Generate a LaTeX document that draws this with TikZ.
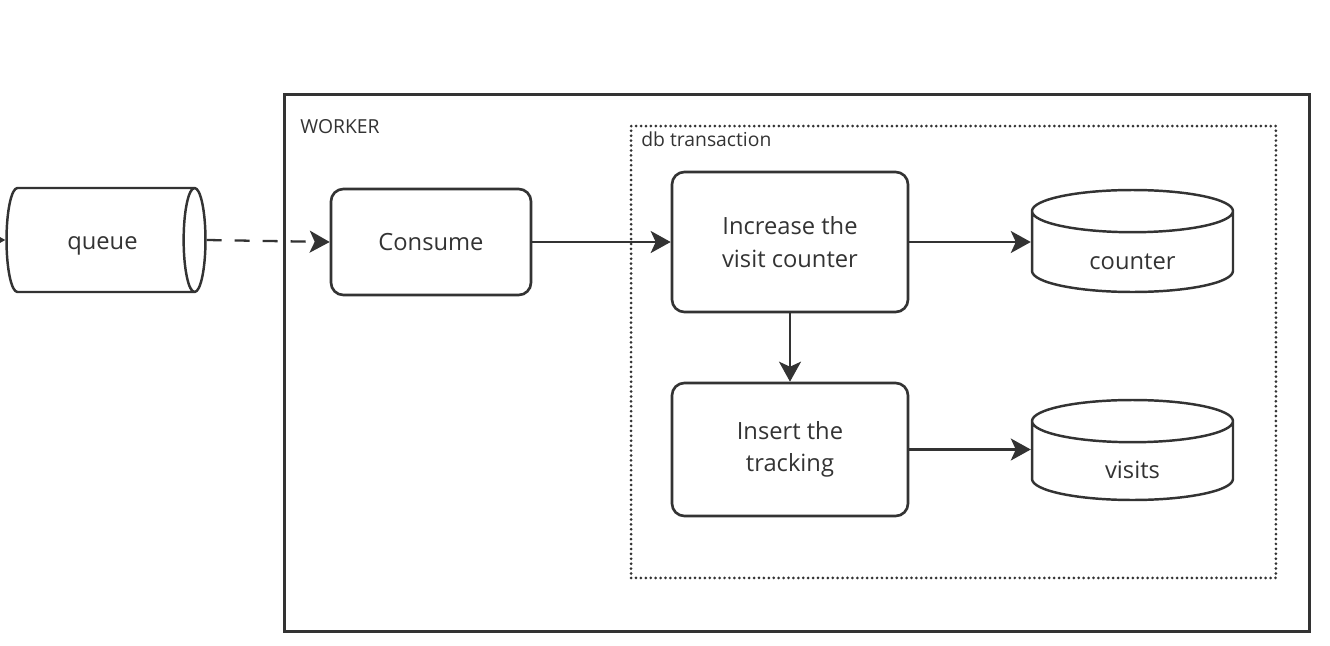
\documentclass[tikz,border=0pt]{standalone}
\usepackage{fontspec}
\setmainfont{Open Sans}
\usetikzlibrary{arrows.meta, positioning, shapes.geometric}
\definecolor{ink}{HTML}{333333}

\begin{document}
\begin{tikzpicture}[
    x=0.02cm, y=-0.02cm,
    box/.style={draw=ink, rectangle, rounded corners=7pt, line width=1.5pt,
                inner sep=0pt, align=center, text=ink,
                font=\fontsize{13.5}{18.5}\selectfont},
    task/.style={box, minimum width=4.72cm},
    store/.style={draw=ink, cylinder, line width=1.4pt, aspect=0.21,
                  inner sep=0pt, text=ink, font=\fontsize{13.5}{18.5}\selectfont},
    table/.style={store, shape border rotate=90, text width=4.02cm, align=center,
                  text height=0.7cm, text depth=0cm},
    frame/.style={draw=ink, rectangle, line width=1.7pt, inner sep=0pt},
    zone/.style={draw=ink, rectangle, line width=1.7pt, inner sep=0pt,
                 line cap=round, dash pattern=on 0pt off 2.8pt},
    lbl/.style={anchor=west, inner sep=0pt, text=ink, font=\fontsize{11}{13}\selectfont},
    link/.style={draw=ink, line width=1.3pt, -{Stealth[length=4mm, width=4.4mm, inset=1mm]}},
    >=Stealth
]
\useasboundingbox (0,0) rectangle (1330,646);
%% Containers
\node[frame, minimum width=20.52cm, minimum height=10.76cm] (worker) at (797,363) {};
\node[lbl] (workerlbl) at (300,127) {WORKER};
\node[zone, minimum width=12.9cm, minimum height=9.04cm] (txn) at (953.5,352) {};
\node[lbl] (txnlbl) at (641,139) {db transaction};
%% Queue and processing steps
\node[store, minimum height=3.98cm, text height=1.12cm+0.55ex, text depth=0.96cm-0.55ex,
      anchor=shape center] (queue) at (106,240) {\hspace*{0.1cm}queue};
\node[box, minimum width=4cm, minimum height=2.12cm] (consume) at (431,242) {Consume};
\node[task, minimum height=2.8cm] (incr) at (790,242) {Increase the\\visit counter};
\node[task, minimum height=2.66cm] (ins) at (790,449.5) {Insert the\\tracking};
%% Tables
\node[table, minimum height=2.04cm, anchor=shape center] (counter) at (1132.5,241) {counter};
\node[table, minimum height=2.0cm, anchor=shape center] (visits) at (1132.5,450) {visits};
%% Connectors
\coordinate (src) at (-40,240);
\draw[link] (src) -- (queue.west);
\draw[link, dash pattern=on 3mm off 2.6mm] (queue.east) -- (consume.west);
\draw[link] (consume.east) -- (consume.east -| incr.west);
\draw[link] (incr.east) -- (incr.east -| counter.west);
\draw[link] (incr.south) -- (ins.north);
\draw[link] (ins.east) -- (ins.east -| visits.west);
\end{tikzpicture}
\end{document}
